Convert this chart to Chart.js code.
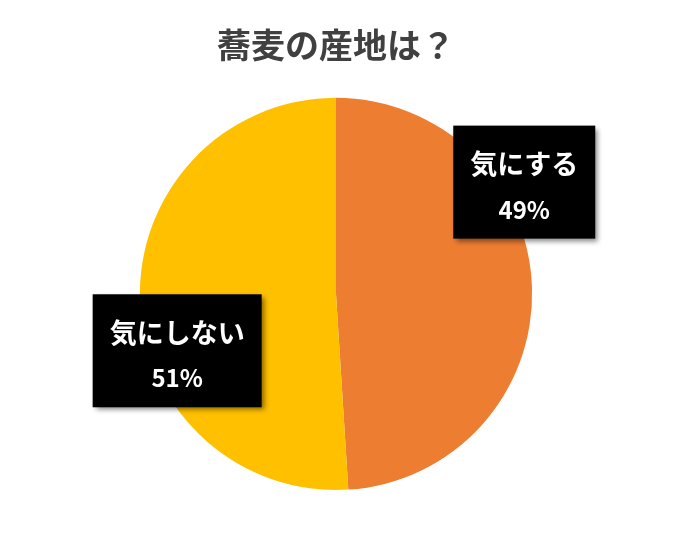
<!DOCTYPE html>
<html>
<head>
<meta charset="utf-8">
<script src="https://cdn.jsdelivr.net/npm/chart.js@4"></script>
<style>
  html, body { margin: 0; padding: 0; background: #fff; }
  #wrap { width: 684px; height: 541px; }
</style>
</head>
<body>
<div id="wrap"><canvas id="pieChart"></canvas></div>
<script>
// chart data
const labels = ["気にする", "気にしない"];
const values = [49, 51];
const sliceColors = ["#ED7D31", "#FFC000"];
// where each label box sits, relative to the pie centre, in units of radius
const labelOffsets = [[0.96, -0.57], [-0.81, 0.29]];

const FONT = '"Noto Sans CJK JP", "Noto Sans", sans-serif';

// black callout boxes with a drop shadow
const calloutPlugin = {
  id: "callouts",
  afterDatasetsDraw(chart) {
    const ctx = chart.ctx;
    const meta = chart.getDatasetMeta(0);
    const total = values.reduce((a, b) => a + b, 0);
    meta.data.forEach((arc, i) => {
      const r = arc.outerRadius;
      const cx = arc.x + labelOffsets[i][0] * r;
      const cy = arc.y + labelOffsets[i][1] * r;
      const pct = Math.round((values[i] / total) * 100) + "%";

      ctx.save();
      ctx.font = "bold 27px " + FONT;
      const w = ctx.measureText(labels[i]).width + 34;
      const h = 113;
      const x = cx - w / 2;
      const y = cy - h / 2;

      ctx.shadowColor = "rgba(0,0,0,0.45)";
      ctx.shadowBlur = 5;
      ctx.shadowOffsetX = 3;
      ctx.shadowOffsetY = 3;
      ctx.fillStyle = "#000";
      ctx.fillRect(x, y, w, h);
      ctx.restore();

      ctx.save();
      ctx.fillStyle = "#fff";
      ctx.textAlign = "center";
      ctx.textBaseline = "middle";
      ctx.font = "bold 27px " + FONT;
      ctx.fillText(labels[i], cx, y + 38);
      ctx.font = "bold 24px " + FONT;
      ctx.fillText(pct, cx, y + 84);
      ctx.restore();
    });
  }
};

const bgPlugin = {
  id: "whiteBg",
  beforeDraw(chart) {
    const ctx = chart.ctx;
    ctx.save();
    ctx.fillStyle = "#fff";
    ctx.fillRect(0, 0, chart.width, chart.height);
    ctx.restore();
  }
};

new Chart(document.getElementById("pieChart").getContext("2d"), {
  type: "pie",
  data: {
    labels: labels,
    datasets: [
      {
        data: values,
        backgroundColor: sliceColors,
        borderWidth: 0,
      },
    ],
  },
  options: {
    responsive: true,
    maintainAspectRatio: false,
    animation: false,
    layout: {
      padding: { top: 0, bottom: 51, left: 0, right: 12 },
    },
    plugins: {
      legend: { display: false },
      tooltip: { enabled: false },
      title: {
        display: true,
        text: "蕎麦の産地は？",
        color: "#404040",
        font: { family: FONT, size: 34, weight: "bold", lineHeight: 1.2 },
        padding: { top: 25, bottom: 32 },
      },
    },
  },
  plugins: [bgPlugin, calloutPlugin],
});
</script>
</body>
</html>
